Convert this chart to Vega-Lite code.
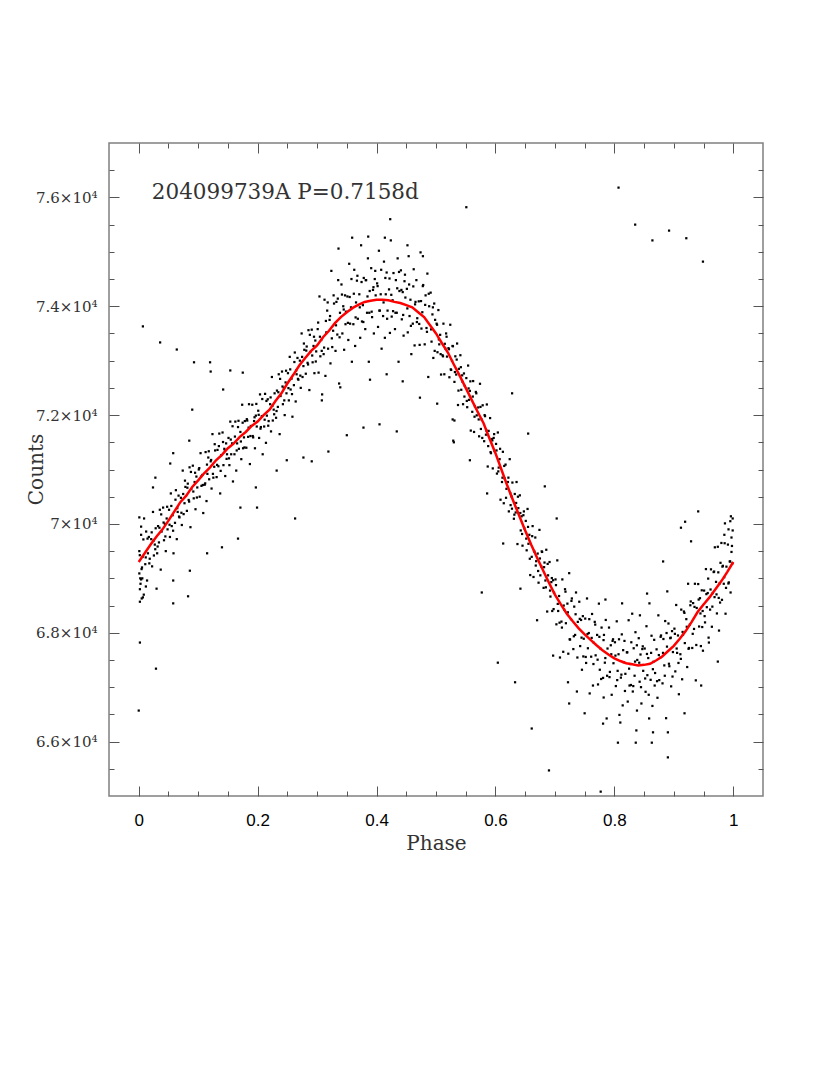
{
"$schema": "https://vega.github.io/schema/vega-lite/v6.json",
"width": 654, "height": 653,
"autosize": "none",
"padding": {"left": 109, "top": 143, "right": 67, "bottom": 279},
"background": "white",
"config": {"view": {"stroke": "#808080", "strokeWidth": 1.5}, "axis": {"grid": false, "domain": false, "tickColor": "#555555", "tickWidth": 1}},
"datasets": {
"pts": [
{"p":0.001,"c":69500},{"p":0.0025,"c":69000},{"p":0.004,"c":69800},{"p":0.0055,"c":69200},{"p":0.007,"c":69400},{"p":0.0085,"c":68700},
{"p":0.011,"c":69260},{"p":0.0125,"c":69860},{"p":0.014,"c":68960},{"p":0.0155,"c":69460},{"p":0.017,"c":69760},{"p":0.0185,"c":69360},
{"p":0.021,"c":69720},{"p":0.0225,"c":69220},{"p":0.024,"c":70220},{"p":0.0255,"c":69420},{"p":0.027,"c":69620},{"p":0.0285,"c":69920},
{"p":0.031,"c":69460},{"p":0.0325,"c":69960},{"p":0.034,"c":69660},{"p":0.0355,"c":70260},{"p":0.037,"c":69160},{"p":0.0385,"c":69860},
{"p":0.041,"c":70300},{"p":0.0425,"c":69700},{"p":0.044,"c":70000},{"p":0.0455,"c":69500},{"p":0.047,"c":70100},{"p":0.0485,"c":69900},
{"p":0.051,"c":70260},{"p":0.0525,"c":69760},{"p":0.054,"c":70560},{"p":0.0555,"c":69960},{"p":0.057,"c":70160},{"p":0.0585,"c":69460},
{"p":0.061,"c":70020},{"p":0.0625,"c":70620},{"p":0.064,"c":69720},{"p":0.0655,"c":70220},{"p":0.067,"c":70520},{"p":0.0685,"c":70120},
{"p":0.071,"c":70480},{"p":0.0725,"c":69980},{"p":0.074,"c":70980},{"p":0.0755,"c":70180},{"p":0.077,"c":70380},{"p":0.0785,"c":70680},
{"p":0.081,"c":70240},{"p":0.0825,"c":70740},{"p":0.084,"c":70440},{"p":0.0855,"c":71040},{"p":0.087,"c":69940},{"p":0.0885,"c":70640},
{"p":0.091,"c":71070},{"p":0.0925,"c":70470},{"p":0.094,"c":70770},{"p":0.0955,"c":70270},{"p":0.097,"c":70870},{"p":0.0985,"c":70670},
{"p":0.101,"c":71000},{"p":0.1025,"c":70500},{"p":0.104,"c":71300},{"p":0.1055,"c":70700},{"p":0.107,"c":70900},{"p":0.1085,"c":70200},
{"p":0.111,"c":70720},{"p":0.1125,"c":71320},{"p":0.114,"c":70420},{"p":0.1155,"c":70920},{"p":0.117,"c":71220},{"p":0.1185,"c":70820},
{"p":0.121,"c":71150},{"p":0.1225,"c":70650},{"p":0.124,"c":71650},{"p":0.1255,"c":70850},{"p":0.127,"c":71050},{"p":0.1285,"c":71350},
{"p":0.131,"c":70860},{"p":0.1325,"c":71360},{"p":0.134,"c":71060},{"p":0.1355,"c":71660},{"p":0.137,"c":70560},{"p":0.1385,"c":71260},
{"p":0.141,"c":71680},{"p":0.1425,"c":71080},{"p":0.144,"c":71380},{"p":0.1455,"c":70880},{"p":0.147,"c":71480},{"p":0.1485,"c":71280},
{"p":0.151,"c":71580},{"p":0.1525,"c":71080},{"p":0.154,"c":71880},{"p":0.1555,"c":71280},{"p":0.157,"c":71480},{"p":0.1585,"c":70780},
{"p":0.161,"c":71280},{"p":0.1625,"c":71880},{"p":0.164,"c":70980},{"p":0.1655,"c":71480},{"p":0.167,"c":71780},{"p":0.1685,"c":71380},
{"p":0.171,"c":71690},{"p":0.1725,"c":71190},{"p":0.174,"c":72190},{"p":0.1755,"c":71390},{"p":0.177,"c":71590},{"p":0.1785,"c":71890},
{"p":0.181,"c":71400},{"p":0.1825,"c":71900},{"p":0.184,"c":71600},{"p":0.1855,"c":72200},{"p":0.187,"c":71100},{"p":0.1885,"c":71800},
{"p":0.191,"c":72190},{"p":0.1925,"c":71590},{"p":0.194,"c":71890},{"p":0.1955,"c":71390},{"p":0.197,"c":71990},{"p":0.1985,"c":71790},
{"p":0.201,"c":72080},{"p":0.2025,"c":71580},{"p":0.204,"c":72380},{"p":0.2055,"c":71780},{"p":0.207,"c":71980},{"p":0.2085,"c":71280},
{"p":0.211,"c":71790},{"p":0.2125,"c":72390},{"p":0.214,"c":71490},{"p":0.2155,"c":71990},{"p":0.217,"c":72290},{"p":0.2185,"c":71890},
{"p":0.221,"c":72200},{"p":0.2225,"c":71700},{"p":0.224,"c":72700},{"p":0.2255,"c":71900},{"p":0.227,"c":72100},{"p":0.2285,"c":72400},
{"p":0.231,"c":71950},{"p":0.2325,"c":72450},{"p":0.234,"c":72150},{"p":0.2355,"c":72750},{"p":0.237,"c":71650},{"p":0.2385,"c":72350},
{"p":0.241,"c":72800},{"p":0.2425,"c":72200},{"p":0.244,"c":72500},{"p":0.2455,"c":72000},{"p":0.247,"c":72600},{"p":0.2485,"c":72400},
{"p":0.251,"c":72770},{"p":0.2525,"c":72270},{"p":0.254,"c":73070},{"p":0.2555,"c":72470},{"p":0.257,"c":72670},{"p":0.2585,"c":71970},
{"p":0.261,"c":72550},{"p":0.2625,"c":73150},{"p":0.264,"c":72250},{"p":0.2655,"c":72750},{"p":0.267,"c":73050},{"p":0.2685,"c":72650},
{"p":0.271,"c":73000},{"p":0.2725,"c":72500},{"p":0.274,"c":73500},{"p":0.2755,"c":72700},{"p":0.277,"c":72900},{"p":0.2785,"c":73200},
{"p":0.281,"c":72760},{"p":0.2825,"c":73260},{"p":0.284,"c":72960},{"p":0.2855,"c":73560},{"p":0.287,"c":72460},{"p":0.2885,"c":73160},
{"p":0.291,"c":73570},{"p":0.2925,"c":72970},{"p":0.294,"c":73270},{"p":0.2955,"c":72770},{"p":0.297,"c":73370},{"p":0.2985,"c":73170},
{"p":0.301,"c":73580},{"p":0.3025,"c":72780},{"p":0.304,"c":74180},{"p":0.3055,"c":73080},{"p":0.307,"c":73380},{"p":0.3085,"c":72380},
{"p":0.311,"c":73120},{"p":0.3125,"c":74120},{"p":0.314,"c":72720},{"p":0.3155,"c":73520},{"p":0.317,"c":73920},{"p":0.3185,"c":73220},
{"p":0.321,"c":73750},{"p":0.3225,"c":72950},{"p":0.324,"c":74650},{"p":0.3255,"c":73250},{"p":0.327,"c":73550},{"p":0.3285,"c":74050},
{"p":0.331,"c":73180},{"p":0.3325,"c":74080},{"p":0.334,"c":73480},{"p":0.3355,"c":74480},{"p":0.337,"c":72580},{"p":0.3385,"c":73880},
{"p":0.341,"c":74400},{"p":0.3425,"c":73500},{"p":0.344,"c":74000},{"p":0.3455,"c":73200},{"p":0.347,"c":74200},{"p":0.3485,"c":73900},
{"p":0.351,"c":74180},{"p":0.3525,"c":73380},{"p":0.354,"c":74780},{"p":0.3555,"c":73680},{"p":0.357,"c":73980},{"p":0.3585,"c":72980},
{"p":0.361,"c":73670},{"p":0.3625,"c":74670},{"p":0.364,"c":73270},{"p":0.3655,"c":74070},{"p":0.367,"c":74470},{"p":0.3685,"c":73770},
{"p":0.371,"c":74220},{"p":0.3725,"c":73420},{"p":0.374,"c":75120},{"p":0.3755,"c":73720},{"p":0.377,"c":74020},{"p":0.3785,"c":74520},
{"p":0.381,"c":73580},{"p":0.3825,"c":74480},{"p":0.384,"c":73880},{"p":0.3855,"c":74880},{"p":0.387,"c":72980},{"p":0.3885,"c":74280},
{"p":0.391,"c":74700},{"p":0.3925,"c":73800},{"p":0.394,"c":74300},{"p":0.3955,"c":73500},{"p":0.397,"c":74500},{"p":0.3985,"c":74200},
{"p":0.401,"c":74420},{"p":0.4025,"c":73620},{"p":0.404,"c":75020},{"p":0.4055,"c":73920},{"p":0.407,"c":74220},{"p":0.4085,"c":73220},
{"p":0.411,"c":73820},{"p":0.4125,"c":74820},{"p":0.414,"c":73420},{"p":0.4155,"c":74220},{"p":0.417,"c":74620},{"p":0.4185,"c":73920},
{"p":0.421,"c":74310},{"p":0.4225,"c":73510},{"p":0.424,"c":75210},{"p":0.4255,"c":73810},{"p":0.427,"c":74110},{"p":0.4285,"c":74610},
{"p":0.431,"c":73580},{"p":0.4325,"c":74480},{"p":0.434,"c":73880},{"p":0.4355,"c":74880},{"p":0.437,"c":72980},{"p":0.4385,"c":74280},
{"p":0.441,"c":74660},{"p":0.4425,"c":73760},{"p":0.444,"c":74260},{"p":0.4455,"c":73460},{"p":0.447,"c":74460},{"p":0.4485,"c":74160},
{"p":0.451,"c":74320},{"p":0.4525,"c":73520},{"p":0.454,"c":74920},{"p":0.4555,"c":73820},{"p":0.457,"c":74120},{"p":0.4585,"c":73120},
{"p":0.461,"c":73680},{"p":0.4625,"c":74680},{"p":0.464,"c":73280},{"p":0.4655,"c":74080},{"p":0.467,"c":74480},{"p":0.4685,"c":73780},
{"p":0.471,"c":74090},{"p":0.4725,"c":73290},{"p":0.474,"c":74990},{"p":0.4755,"c":73590},{"p":0.477,"c":73890},{"p":0.4785,"c":74390},
{"p":0.481,"c":73300},{"p":0.4825,"c":74200},{"p":0.484,"c":73600},{"p":0.4855,"c":74600},{"p":0.487,"c":72700},{"p":0.4885,"c":74000},
{"p":0.491,"c":74250},{"p":0.4925,"c":73350},{"p":0.494,"c":73850},{"p":0.4955,"c":73050},{"p":0.497,"c":74050},{"p":0.4985,"c":73750},
{"p":0.501,"c":73680},{"p":0.5025,"c":73155},{"p":0.504,"c":73930},{"p":0.5055,"c":73300},{"p":0.507,"c":73475},{"p":0.5085,"c":72745},
{"p":0.511,"c":73100},{"p":0.5125,"c":73680},{"p":0.514,"c":72750},{"p":0.5155,"c":73225},{"p":0.517,"c":73500},{"p":0.5185,"c":73075},
{"p":0.521,"c":73230},{"p":0.5225,"c":72695},{"p":0.524,"c":73660},{"p":0.5255,"c":72830},{"p":0.527,"c":72995},{"p":0.5285,"c":73265},
{"p":0.531,"c":72610},{"p":0.5325,"c":73080},{"p":0.534,"c":72745},{"p":0.5355,"c":73315},{"p":0.537,"c":72185},{"p":0.5385,"c":72850},
{"p":0.541,"c":73100},{"p":0.5425,"c":72465},{"p":0.544,"c":72730},{"p":0.5455,"c":72200},{"p":0.547,"c":72765},{"p":0.5485,"c":72535},
{"p":0.551,"c":72680},{"p":0.5525,"c":72145},{"p":0.554,"c":72910},{"p":0.5555,"c":72280},{"p":0.557,"c":72445},{"p":0.5585,"c":71715},
{"p":0.561,"c":72060},{"p":0.5625,"c":72625},{"p":0.564,"c":71690},{"p":0.5655,"c":72160},{"p":0.567,"c":72425},{"p":0.5685,"c":71995},
{"p":0.571,"c":72140},{"p":0.5725,"c":71610},{"p":0.574,"c":72575},{"p":0.5755,"c":71745},{"p":0.577,"c":71915},{"p":0.5785,"c":72180},
{"p":0.581,"c":71520},{"p":0.5825,"c":71980},{"p":0.584,"c":71640},{"p":0.5855,"c":72195},{"p":0.587,"c":71055},{"p":0.5885,"c":71710},
{"p":0.591,"c":71945},{"p":0.5925,"c":71300},{"p":0.594,"c":71560},{"p":0.5955,"c":71020},{"p":0.597,"c":71580},{"p":0.5985,"c":71340},
{"p":0.601,"c":71470},{"p":0.6025,"c":70925},{"p":0.604,"c":71680},{"p":0.6055,"c":71035},{"p":0.607,"c":71190},{"p":0.6085,"c":70445},
{"p":0.611,"c":70770},{"p":0.6125,"c":71325},{"p":0.614,"c":70380},{"p":0.6155,"c":70835},{"p":0.617,"c":71090},{"p":0.6185,"c":70645},
{"p":0.621,"c":70770},{"p":0.6225,"c":70230},{"p":0.624,"c":71190},{"p":0.6255,"c":70345},{"p":0.627,"c":70505},{"p":0.6285,"c":70760},
{"p":0.631,"c":70095},{"p":0.6325,"c":70550},{"p":0.634,"c":70210},{"p":0.6355,"c":70770},{"p":0.637,"c":69630},{"p":0.6385,"c":70290},
{"p":0.641,"c":70525},{"p":0.6425,"c":69880},{"p":0.644,"c":70140},{"p":0.6455,"c":69600},{"p":0.647,"c":70160},{"p":0.6485,"c":69920},
{"p":0.651,"c":70055},{"p":0.6525,"c":69515},{"p":0.654,"c":70275},{"p":0.6555,"c":69635},{"p":0.657,"c":69800},{"p":0.6585,"c":69060},
{"p":0.661,"c":69395},{"p":0.6625,"c":69960},{"p":0.664,"c":69025},{"p":0.6655,"c":69490},{"p":0.667,"c":69750},{"p":0.6685,"c":69315},
{"p":0.671,"c":69455},{"p":0.6725,"c":68920},{"p":0.674,"c":69890},{"p":0.6755,"c":69055},{"p":0.677,"c":69220},{"p":0.6785,"c":69485},
{"p":0.681,"c":68825},{"p":0.6825,"c":69290},{"p":0.684,"c":68960},{"p":0.6855,"c":69525},{"p":0.687,"c":68390},{"p":0.6885,"c":69055},
{"p":0.691,"c":69300},{"p":0.6925,"c":68665},{"p":0.694,"c":68930},{"p":0.6955,"c":68400},{"p":0.697,"c":68965},{"p":0.6985,"c":68735},
{"p":0.701,"c":68980},{"p":0.7025,"c":68155},{"p":0.704,"c":69330},{"p":0.7055,"c":68400},{"p":0.707,"c":68675},{"p":0.7085,"c":67545},
{"p":0.711,"c":68205},{"p":0.7125,"c":68980},{"p":0.714,"c":67650},{"p":0.7155,"c":68425},{"p":0.717,"c":68800},{"p":0.7185,"c":68175},
{"p":0.721,"c":68535},{"p":0.7225,"c":67615},{"p":0.724,"c":69095},{"p":0.7255,"c":67875},{"p":0.727,"c":68250},{"p":0.7285,"c":68630},
{"p":0.731,"c":67700},{"p":0.7325,"c":68480},{"p":0.734,"c":67960},{"p":0.7355,"c":68740},{"p":0.737,"c":66920},{"p":0.7385,"c":68200},
{"p":0.741,"c":68570},{"p":0.7425,"c":67755},{"p":0.744,"c":68235},{"p":0.7455,"c":67320},{"p":0.747,"c":68305},{"p":0.7485,"c":67890},
{"p":0.751,"c":68260},{"p":0.7525,"c":67445},{"p":0.754,"c":68630},{"p":0.7555,"c":67715},{"p":0.757,"c":67995},{"p":0.7585,"c":66885},
{"p":0.761,"c":67560},{"p":0.7625,"c":68345},{"p":0.764,"c":67030},{"p":0.7655,"c":67815},{"p":0.767,"c":68200},{"p":0.7685,"c":67585},
{"p":0.771,"c":67960},{"p":0.7725,"c":67050},{"p":0.774,"c":68535},{"p":0.7755,"c":67320},{"p":0.777,"c":67705},{"p":0.7785,"c":68095},
{"p":0.781,"c":67170},{"p":0.7825,"c":67960},{"p":0.784,"c":67450},{"p":0.7855,"c":68235},{"p":0.787,"c":66425},{"p":0.7885,"c":67710},
{"p":0.791,"c":68095},{"p":0.7925,"c":67280},{"p":0.794,"c":67770},{"p":0.7955,"c":66860},{"p":0.797,"c":67850},{"p":0.7985,"c":67440},
{"p":0.801,"c":67825},{"p":0.8025,"c":67020},{"p":0.804,"c":68210},{"p":0.8055,"c":67300},{"p":0.807,"c":67605},{"p":0.8085,"c":66490},
{"p":0.811,"c":67175},{"p":0.8125,"c":67970},{"p":0.814,"c":66665},{"p":0.8155,"c":67460},{"p":0.817,"c":67850},{"p":0.8185,"c":67245},
{"p":0.821,"c":67640},{"p":0.8225,"c":66735},{"p":0.824,"c":68230},{"p":0.8255,"c":67030},{"p":0.827,"c":67425},{"p":0.8285,"c":67825},
{"p":0.831,"c":66920},{"p":0.8325,"c":67715},{"p":0.834,"c":67210},{"p":0.8355,"c":68010},{"p":0.837,"c":66205},{"p":0.8385,"c":67500},
{"p":0.841,"c":67900},{"p":0.8425,"c":67100},{"p":0.844,"c":67600},{"p":0.8455,"c":66700},{"p":0.847,"c":67700},{"p":0.8485,"c":67300},
{"p":0.851,"c":67710},{"p":0.8525,"c":66915},{"p":0.854,"c":68120},{"p":0.8555,"c":67220},{"p":0.857,"c":67535},{"p":0.8585,"c":66425},
{"p":0.861,"c":67135},{"p":0.8625,"c":67945},{"p":0.864,"c":66655},{"p":0.8655,"c":67465},{"p":0.867,"c":67870},{"p":0.8685,"c":67260},
{"p":0.871,"c":67695},{"p":0.8725,"c":66805},{"p":0.874,"c":68320},{"p":0.8755,"c":67130},{"p":0.877,"c":67540},{"p":0.8785,"c":67950},
{"p":0.881,"c":67070},{"p":0.8825,"c":67885},{"p":0.884,"c":67400},{"p":0.8855,"c":68215},{"p":0.887,"c":66430},{"p":0.8885,"c":67745},
{"p":0.891,"c":68170},{"p":0.8925,"c":67385},{"p":0.894,"c":67900},{"p":0.8955,"c":67015},{"p":0.897,"c":68030},{"p":0.8985,"c":67645},
{"p":0.901,"c":68075},{"p":0.9025,"c":67290},{"p":0.904,"c":68510},{"p":0.9055,"c":67630},{"p":0.907,"c":67950},{"p":0.9085,"c":66870},
{"p":0.911,"c":67605},{"p":0.9125,"c":68425},{"p":0.914,"c":67145},{"p":0.9155,"c":67965},{"p":0.917,"c":68390},{"p":0.9185,"c":67810},
{"p":0.921,"c":68250},{"p":0.9225,"c":67370},{"p":0.924,"c":68900},{"p":0.9255,"c":67720},{"p":0.927,"c":68150},{"p":0.9285,"c":68575},
{"p":0.931,"c":67720},{"p":0.9325,"c":68545},{"p":0.934,"c":68070},{"p":0.9355,"c":68900},{"p":0.937,"c":67125},{"p":0.9385,"c":68455},
{"p":0.941,"c":68895},{"p":0.9425,"c":68115},{"p":0.944,"c":68635},{"p":0.9455,"c":67755},{"p":0.947,"c":68780},{"p":0.9485,"c":68400},
{"p":0.951,"c":68775},{"p":0.9525,"c":68190},{"p":0.954,"c":69170},{"p":0.9555,"c":68470},{"p":0.957,"c":68730},{"p":0.9585,"c":67910},
{"p":0.961,"c":68425},{"p":0.9625,"c":69165},{"p":0.964,"c":68110},{"p":0.9655,"c":68730},{"p":0.967,"c":69115},{"p":0.9685,"c":68655},
{"p":0.971,"c":68935},{"p":0.9725,"c":68355},{"p":0.974,"c":69580},{"p":0.9755,"c":68640},{"p":0.977,"c":68905},{"p":0.9785,"c":69285},
{"p":0.981,"c":68605},{"p":0.9825,"c":69230},{"p":0.984,"c":68900},{"p":0.9855,"c":69645},{"p":0.987,"c":68350},{"p":0.9885,"c":69215},
{"p":0.991,"c":69620},{"p":0.9925,"c":68925},{"p":0.994,"c":69310},{"p":0.9955,"c":68740},{"p":0.997,"c":69485},{"p":0.9985,"c":69275},
{"p":0.0018,"c":69425},{"p":0.0048,"c":69170},{"p":0.0078,"c":69715},{"p":0.0118,"c":69385},{"p":0.0148,"c":69730},{"p":0.0178,"c":69275},
{"p":0.0218,"c":69845},{"p":0.0248,"c":69690},{"p":0.0278,"c":69535},{"p":0.0318,"c":69585},{"p":0.0348,"c":69930},{"p":0.0378,"c":70175},
{"p":0.0418,"c":70025},{"p":0.0448,"c":69770},{"p":0.0478,"c":70315},{"p":0.0518,"c":69985},{"p":0.0548,"c":70330},{"p":0.0578,"c":69875},
{"p":0.0618,"c":70445},{"p":0.0648,"c":70290},{"p":0.0678,"c":70135},{"p":0.0718,"c":70205},{"p":0.0748,"c":70550},{"p":0.0778,"c":70795},
{"p":0.0818,"c":70665},{"p":0.0848,"c":70410},{"p":0.0878,"c":70955},{"p":0.0918,"c":70595},{"p":0.0948,"c":70940},{"p":0.0978,"c":70485},
{"p":0.1018,"c":71025},{"p":0.1048,"c":70870},{"p":0.1078,"c":70715},{"p":0.1118,"c":70745},{"p":0.1148,"c":71090},{"p":0.1178,"c":71335},
{"p":0.1218,"c":71175},{"p":0.1248,"c":70920},{"p":0.1278,"c":71465},{"p":0.1318,"c":71085},{"p":0.1348,"c":71430},{"p":0.1378,"c":70975},
{"p":0.1418,"c":71505},{"p":0.1448,"c":71350},{"p":0.1478,"c":71195},{"p":0.1518,"c":71205},{"p":0.1548,"c":71550},{"p":0.1578,"c":71795},
{"p":0.1618,"c":71605},{"p":0.1648,"c":71350},{"p":0.1678,"c":71895},{"p":0.1718,"c":71515},{"p":0.1748,"c":71860},{"p":0.1778,"c":71405},
{"p":0.1818,"c":71925},{"p":0.1848,"c":71770},{"p":0.1878,"c":71615},{"p":0.1918,"c":71615},{"p":0.1948,"c":71960},{"p":0.1978,"c":72205},
{"p":0.2018,"c":72005},{"p":0.2048,"c":71750},{"p":0.2078,"c":72295},{"p":0.2118,"c":71915},{"p":0.2148,"c":72260},{"p":0.2178,"c":71805},
{"p":0.2218,"c":72325},{"p":0.2248,"c":72170},{"p":0.2278,"c":72015},{"p":0.2318,"c":72075},{"p":0.2348,"c":72420},{"p":0.2378,"c":72665},
{"p":0.2418,"c":72525},{"p":0.2448,"c":72270},{"p":0.2478,"c":72815},{"p":0.2518,"c":72495},{"p":0.2548,"c":72840},{"p":0.2578,"c":72385},
{"p":0.2618,"c":72975},{"p":0.2648,"c":72820},{"p":0.2678,"c":72665},{"p":0.2718,"c":72725},{"p":0.2748,"c":73070},{"p":0.2778,"c":73315},
{"p":0.2818,"c":73185},{"p":0.2848,"c":72930},{"p":0.2878,"c":73475},{"p":0.2918,"c":73095},{"p":0.2948,"c":73440},{"p":0.2978,"c":72985},
{"p":0.3018,"c":73700},{"p":0.3048,"c":73440},{"p":0.3078,"c":73180},{"p":0.3118,"c":73240},{"p":0.3148,"c":73730},{"p":0.3178,"c":74070},
{"p":0.3218,"c":73820},{"p":0.3248,"c":73410},{"p":0.3278,"c":74200},{"p":0.3318,"c":73650},{"p":0.3348,"c":74140},{"p":0.3378,"c":73430},
{"p":0.3418,"c":74215},{"p":0.3448,"c":73940},{"p":0.3478,"c":73670},{"p":0.3518,"c":73695},{"p":0.3548,"c":74170},{"p":0.3578,"c":74500},
{"p":0.3618,"c":74230},{"p":0.3648,"c":73795},{"p":0.3678,"c":74560},{"p":0.3718,"c":73980},{"p":0.3748,"c":74445},{"p":0.3778,"c":73710},
{"p":0.3818,"c":74480},{"p":0.3848,"c":74180},{"p":0.3878,"c":73880},{"p":0.3918,"c":73900},{"p":0.3948,"c":74350},{"p":0.3978,"c":74650},
{"p":0.4018,"c":74370},{"p":0.4048,"c":73920},{"p":0.4078,"c":74670},{"p":0.4118,"c":74070},{"p":0.4148,"c":74520},{"p":0.4178,"c":73770},
{"p":0.4218,"c":74510},{"p":0.4248,"c":74210},{"p":0.4278,"c":73910},{"p":0.4318,"c":73880},{"p":0.4348,"c":74330},{"p":0.4378,"c":74630},
{"p":0.4418,"c":74300},{"p":0.4448,"c":73840},{"p":0.4478,"c":74580},{"p":0.4518,"c":73960},{"p":0.4548,"c":74400},{"p":0.4578,"c":73640},
{"p":0.4618,"c":74365},{"p":0.4648,"c":74035},{"p":0.4678,"c":73710},{"p":0.4718,"c":73675},{"p":0.4748,"c":74095},{"p":0.4778,"c":74370},
{"p":0.4818,"c":74025},{"p":0.4848,"c":73530},{"p":0.4878,"c":74230},{"p":0.4918,"c":73575},{"p":0.4948,"c":73980},{"p":0.4978,"c":73180},
{"p":0.5018,"c":73660},{"p":0.5048,"c":73390},{"p":0.5078,"c":73120},{"p":0.5118,"c":73080},{"p":0.5148,"c":73310},{"p":0.5178,"c":73440},
{"p":0.5218,"c":73210},{"p":0.5248,"c":72840},{"p":0.5278,"c":73270},{"p":0.5318,"c":72790},{"p":0.5348,"c":73020},{"p":0.5378,"c":72450},
{"p":0.5418,"c":72880},{"p":0.5448,"c":72610},{"p":0.5478,"c":72340},{"p":0.5518,"c":72260},{"p":0.5548,"c":72490},{"p":0.5578,"c":72620},
{"p":0.5618,"c":72340},{"p":0.5648,"c":71970},{"p":0.5678,"c":72400},{"p":0.5718,"c":71920},{"p":0.5748,"c":72150},{"p":0.5778,"c":71580},
{"p":0.5818,"c":72000},{"p":0.5848,"c":71715},{"p":0.5878,"c":71430},{"p":0.5918,"c":71320},{"p":0.5948,"c":71535},{"p":0.5978,"c":71650},
{"p":0.6018,"c":71350},{"p":0.6048,"c":70965},{"p":0.6078,"c":71380},{"p":0.6118,"c":70850},{"p":0.6148,"c":71065},{"p":0.6178,"c":70480},
{"p":0.6218,"c":70850},{"p":0.6248,"c":70565},{"p":0.6278,"c":70280},{"p":0.6318,"c":70170},{"p":0.6348,"c":70385},{"p":0.6378,"c":70500},
{"p":0.6418,"c":70200},{"p":0.6448,"c":69815},{"p":0.6478,"c":70230},{"p":0.6518,"c":69730},{"p":0.6548,"c":69945},{"p":0.6578,"c":69360},
{"p":0.6618,"c":69775},{"p":0.6648,"c":69505},{"p":0.6678,"c":69235},{"p":0.6718,"c":69135},{"p":0.6748,"c":69365},{"p":0.6778,"c":69495},
{"p":0.6818,"c":69205},{"p":0.6848,"c":68835},{"p":0.6878,"c":69265},{"p":0.6918,"c":68775},{"p":0.6948,"c":69005},{"p":0.6978,"c":68435},
{"p":0.7018,"c":68875},{"p":0.7048,"c":68530},{"p":0.7078,"c":68185},{"p":0.7118,"c":68095},{"p":0.7148,"c":68500},{"p":0.7178,"c":68755},
{"p":0.7218,"c":68375},{"p":0.7248,"c":67880},{"p":0.7278,"c":68585},{"p":0.7318,"c":67935},{"p":0.7348,"c":68340},{"p":0.7378,"c":67545},
{"p":0.7418,"c":68255},{"p":0.7448,"c":67910},{"p":0.7478,"c":67565},{"p":0.7518,"c":67555},{"p":0.7548,"c":67975},{"p":0.7578,"c":68250},
{"p":0.7618,"c":67905},{"p":0.7648,"c":67425},{"p":0.7678,"c":68150},{"p":0.7718,"c":67505},{"p":0.7748,"c":67925},{"p":0.7778,"c":67150},
{"p":0.7818,"c":67865},{"p":0.7848,"c":67535},{"p":0.7878,"c":67210},{"p":0.7918,"c":67185},{"p":0.7948,"c":67605},{"p":0.7978,"c":67880},
{"p":0.8018,"c":67580},{"p":0.8048,"c":67130},{"p":0.8078,"c":67880},{"p":0.8118,"c":67230},{"p":0.8148,"c":67680},{"p":0.8178,"c":66930},
{"p":0.8218,"c":67640},{"p":0.8248,"c":67340},{"p":0.8278,"c":67040},{"p":0.8318,"c":67020},{"p":0.8348,"c":67470},{"p":0.8378,"c":67770},
{"p":0.8418,"c":67450},{"p":0.8448,"c":67000},{"p":0.8478,"c":67750},{"p":0.8518,"c":67160},{"p":0.8548,"c":67610},{"p":0.8578,"c":66860},
{"p":0.8618,"c":67630},{"p":0.8648,"c":67330},{"p":0.8678,"c":67030},{"p":0.8718,"c":67110},{"p":0.8748,"c":67590},{"p":0.8778,"c":67925},
{"p":0.8818,"c":67630},{"p":0.8848,"c":67210},{"p":0.8878,"c":67995},{"p":0.8918,"c":67430},{"p":0.8948,"c":67910},{"p":0.8978,"c":67195},
{"p":0.9018,"c":67980},{"p":0.9048,"c":67710},{"p":0.9078,"c":67445},{"p":0.9118,"c":67520},{"p":0.9148,"c":68015},{"p":0.9178,"c":68365},
{"p":0.9218,"c":68110},{"p":0.9248,"c":67705},{"p":0.9278,"c":68505},{"p":0.9318,"c":67980},{"p":0.9348,"c":68475},{"p":0.9378,"c":67775},
{"p":0.9418,"c":68610},{"p":0.9448,"c":68355},{"p":0.9478,"c":68105},{"p":0.9518,"c":68305},{"p":0.9548,"c":68710},{"p":0.9578,"c":68995},
{"p":0.9618,"c":68795},{"p":0.9648,"c":68480},{"p":0.9678,"c":69125},{"p":0.9718,"c":68705},{"p":0.9748,"c":69110},{"p":0.9778,"c":68555},
{"p":0.9818,"c":69215},{"p":0.9848,"c":69020},{"p":0.9878,"c":68825},{"p":0.9918,"c":68905},{"p":0.9948,"c":69310},{"p":0.9978,"c":69595},
{"p":0.992,"c":69900},{"p":0.995,"c":70050},{"p":0.997,"c":69750},{"p":0.999,"c":70100},{"p":0.985,"c":69800},{"p":0.98,"c":69650},
{"p":0.003,"c":68900},{"p":0.006,"c":69000},{"p":0.012,"c":68850},{"p":0.004,"c":69950},{"p":0.009,"c":70100},
{"p":0.007,"c":73630},{"p":0.036,"c":73335},{"p":0.064,"c":73205},{"p":0.093,"c":72970},{"p":0.12,"c":72970},{"p":0.121,"c":72800},
{"p":0.154,"c":72820},{"p":0.142,"c":72470},{"p":0.175,"c":72780},{"p":0.09,"c":72100},{"p":0.058,"c":71300},{"p":0.085,"c":71530},
{"p":0.028,"c":70850},{"p":0.053,"c":71110},
{"p":0.263,"c":70100},{"p":0.167,"c":69730},{"p":0.14,"c":69570},{"p":0.115,"c":69460},{"p":0.086,"c":69140},{"p":0.083,"c":68670},
{"p":0.058,"c":68960},{"p":0.03,"c":68810},{"p":0.007,"c":68650},{"p":0.171,"c":70300},{"p":0.199,"c":70300},{"p":0.232,"c":70980},
{"p":0.277,"c":71220},{"p":0.291,"c":71150},{"p":0.319,"c":71330},{"p":0.35,"c":71630},{"p":0.378,"c":71770},{"p":0.405,"c":71830},
{"p":0.434,"c":71700},{"p":0.197,"c":70670},{"p":0.249,"c":71170},{"p":0.308,"c":72270},{"p":0.339,"c":72510},{"p":0.389,"c":72650},
{"p":0.417,"c":72750},{"p":0.444,"c":72620},{"p":0.473,"c":72320},{"p":0.502,"c":72210},{"p":0.529,"c":71530},{"p":0.531,"c":71900},
{"p":0.359,"c":75260},{"p":0.386,"c":75280},{"p":0.414,"c":75260},{"p":0.452,"c":75120},{"p":0.336,"c":75060},{"p":0.478,"c":74920},
{"p":0.423,"c":75600},{"p":0.551,"c":75820},
{"p":0.628,"c":72400},{"p":0.655,"c":71660},{"p":0.577,"c":68740},{"p":0.604,"c":67450},{"p":0.633,"c":67090},{"p":0.661,"c":66240},
{"p":0.69,"c":65470},{"p":0.683,"c":70690},{"p":0.703,"c":70100},{"p":0.528,"c":71920},{"p":0.53,"c":71500},{"p":0.557,"c":71170},
{"p":0.586,"c":70560},{"p":0.613,"c":69640},{"p":0.642,"c":68810},{"p":0.67,"c":68230},{"p":0.697,"c":67580},{"p":0.722,"c":67090},
{"p":0.724,"c":66700},{"p":0.75,"c":66520},{"p":0.781,"c":66330},{"p":0.806,"c":65980},{"p":0.836,"c":65980},{"p":0.863,"c":65980},
{"p":0.89,"c":66170},{"p":0.89,"c":65710},{"p":0.865,"c":66170},{"p":0.81,"c":66350},{"p":0.918,"c":66520},{"p":0.946,"c":67030},
{"p":0.782,"c":66810},{"p":0.838,"c":66570},{"p":0.855,"c":68720},{"p":0.859,"c":68540},{"p":0.813,"c":68540},{"p":0.785,"c":68610},
{"p":0.882,"c":69310},{"p":0.889,"c":68760},{"p":0.912,"c":69930},{"p":0.919,"c":70040},{"p":0.941,"c":70230},{"p":0.929,"c":69680},
{"p":0.969,"c":69570},{"p":0.986,"c":70010},{"p":0.996,"c":70140},{"p":0.999,"c":69880},{"p":0.974,"c":67470},{"p":0.976,"c":68040},
{"p":0.959,"c":67820},{"p":0.949,"c":67670},{"p":0.83,"c":68350},{"p":0.843,"c":68320},{"p":0.777,"c":65080},
{"p":0.807,"c":76180},{"p":0.835,"c":75500},{"p":0.864,"c":75210},{"p":0.892,"c":75390},{"p":0.921,"c":75250},{"p":0.949,"c":74820},
{"p":0.001,"c":70120},{"p":0.005,"c":68630},{"p":0.002,"c":68800},{"p":0.024,"c":70670},{"p":0.001,"c":69090},{"p":0.004,"c":68980},
{"p":0.002,"c":68570},{"p":0.058,"c":68540},{"p":0.002,"c":67820},{"p":0.029,"c":67340},{"p":0.0,"c":66570}
],
"fit": [
{"p":0.0,"c":69300},{"p":0.01,"c":69460},{"p":0.02,"c":69620},{"p":0.03,"c":69770},{"p":0.04,"c":69900},{"p":0.05,"c":70060},
{"p":0.06,"c":70230},{"p":0.07,"c":70400},{"p":0.08,"c":70520},{"p":0.09,"c":70680},{"p":0.1,"c":70800},{"p":0.11,"c":70930},
{"p":0.12,"c":71040},{"p":0.13,"c":71170},{"p":0.14,"c":71270},{"p":0.15,"c":71390},{"p":0.16,"c":71480},{"p":0.17,"c":71600},
{"p":0.18,"c":71690},{"p":0.19,"c":71800},{"p":0.2,"c":71880},{"p":0.21,"c":72000},{"p":0.22,"c":72100},{"p":0.23,"c":72260},
{"p":0.24,"c":72400},{"p":0.25,"c":72580},{"p":0.26,"c":72740},{"p":0.27,"c":72910},{"p":0.28,"c":73050},{"p":0.29,"c":73180},
{"p":0.3,"c":73280},{"p":0.31,"c":73430},{"p":0.32,"c":73550},{"p":0.33,"c":73690},{"p":0.34,"c":73800},{"p":0.35,"c":73890},
{"p":0.36,"c":73970},{"p":0.37,"c":74030},{"p":0.38,"c":74080},{"p":0.39,"c":74100},{"p":0.4,"c":74120},{"p":0.41,"c":74120},
{"p":0.42,"c":74110},{"p":0.43,"c":74080},{"p":0.44,"c":74060},{"p":0.45,"c":74020},{"p":0.46,"c":73980},{"p":0.47,"c":73890},
{"p":0.48,"c":73800},{"p":0.49,"c":73650},{"p":0.5,"c":73500},{"p":0.51,"c":73320},{"p":0.52,"c":73150},{"p":0.53,"c":72930},
{"p":0.54,"c":72720},{"p":0.55,"c":72500},{"p":0.56,"c":72280},{"p":0.57,"c":72060},{"p":0.58,"c":71850},{"p":0.59,"c":71570},
{"p":0.6,"c":71300},{"p":0.61,"c":71000},{"p":0.62,"c":70700},{"p":0.63,"c":70420},{"p":0.64,"c":70150},{"p":0.65,"c":69880},
{"p":0.66,"c":69620},{"p":0.67,"c":69380},{"p":0.68,"c":69150},{"p":0.69,"c":68920},{"p":0.7,"c":68700},{"p":0.71,"c":68520},
{"p":0.72,"c":68350},{"p":0.73,"c":68210},{"p":0.74,"c":68080},{"p":0.75,"c":67970},{"p":0.76,"c":67870},{"p":0.77,"c":67770},
{"p":0.78,"c":67680},{"p":0.79,"c":67600},{"p":0.8,"c":67530},{"p":0.81,"c":67480},{"p":0.82,"c":67440},{"p":0.83,"c":67420},
{"p":0.84,"c":67400},{"p":0.85,"c":67410},{"p":0.86,"c":67430},{"p":0.87,"c":67490},{"p":0.88,"c":67560},{"p":0.89,"c":67660},
{"p":0.9,"c":67760},{"p":0.91,"c":67890},{"p":0.92,"c":68030},{"p":0.93,"c":68200},{"p":0.94,"c":68380},{"p":0.95,"c":68520},
{"p":0.96,"c":68650},{"p":0.97,"c":68800},{"p":0.98,"c":68950},{"p":0.99,"c":69120},{"p":1.0,"c":69300}
],
"label": [{"text": "204099739A P=0.7158d"}],
"blank": [{"text": ""}]
},
"resolve": {"axis": {"x": "independent", "y": "independent"}},
"layer": [
{
"data": {"name": "pts"},
"mark": {"type": "square", "size": 5, "color": "#000000", "opacity": 1, "clip": true},
"encoding": {
"x": {"field": "p", "type": "quantitative", "scale": {"domain": [-0.05, 1.05], "nice": false, "zero": false},
"axis": {"orient": "bottom", "values": [0, 0.2, 0.4, 0.6, 0.8, 1], "ticks": false, "tickSize": 0, "labelPadding": 16, "labelExpr": "format(datum.value, '~g')", "labelFont": "Liberation Sans", "labelFontSize": 17, "labelColor": "#000000", "title": "Phase", "titleFont": "DejaVu Serif", "titleFontSize": 20, "titleFontWeight": "normal", "titleColor": "#333333", "titleX": 327, "titleY": 47, "titleAlign": "center", "titleBaseline": "middle"}},
"y": {"field": "c", "type": "quantitative", "scale": {"domain": [65000, 77000], "nice": false, "zero": false},
"axis": {"orient": "left", "values": [66000, 68000, 70000, 72000, 74000, 76000], "ticks": false, "tickSize": 0, "labelPadding": 12, "labelExpr": "format(datum.value / 10000, '.2~g') + '×10⁴'", "labelFont": "DejaVu Serif", "labelFontSize": 15, "labelColor": "#333333", "title": "Counts", "titleFont": "DejaVu Serif", "titleFontSize": 20, "titleFontWeight": "normal", "titleColor": "#333333", "titleX": -73, "titleY": 326, "titleAlign": "center", "titleBaseline": "middle", "titleAngle": 270}}
}
},
{
"data": {"name": "fit"},
"mark": {"type": "line", "color": "#ff0000", "strokeWidth": 2.5, "clip": true},
"encoding": {
"x": {"field": "p", "type": "quantitative", "axis": {"orient": "top", "offset": -653, "values": [0, 0.2, 0.4, 0.6, 0.8, 1], "tickSize": 10, "labels": false, "title": null}},
"y": {"field": "c", "type": "quantitative", "axis": {"orient": "right", "offset": -654, "values": [66000, 68000, 70000, 72000, 74000, 76000], "tickSize": 10, "labels": false, "title": null}}
}
},
{
"data": {"name": "label"},
"mark": {"type": "text", "align": "left", "baseline": "alphabetic", "font": "DejaVu Serif", "fontSize": 21.5, "color": "#333333"},
"encoding": {
"text": {"field": "text"},
"x": {"datum": 0.022, "type": "quantitative", "axis": {"orient": "bottom", "offset": -653, "values": [0, 0.2, 0.4, 0.6, 0.8, 1], "tickSize": 10, "labels": false, "title": null}},
"y": {"datum": 75980, "type": "quantitative", "axis": {"orient": "left", "offset": -654, "values": [66000, 68000, 70000, 72000, 74000, 76000], "tickSize": 10, "labels": false, "title": null}}
}
},
{
"data": {"name": "blank"},
"mark": {"type": "text"},
"encoding": {
"text": {"field": "text"},
"x": {"datum": 0.5, "type": "quantitative", "axis": {"orient": "top", "offset": -653, "values": [0.05, 0.1, 0.15, 0.25, 0.3, 0.35, 0.45, 0.5, 0.55, 0.65, 0.7, 0.75, 0.85, 0.9, 0.95], "tickSize": 5, "labels": false, "title": null}},
"y": {"datum": 70000, "type": "quantitative", "axis": {"orient": "right", "offset": -654, "values": [65500, 66500, 67000, 67500, 68500, 69000, 69500, 70500, 71000, 71500, 72500, 73000, 73500, 74500, 75000, 75500, 76500], "tickSize": 5, "labels": false, "title": null}}
}
},
{
"data": {"name": "blank"},
"mark": {"type": "text"},
"encoding": {
"text": {"field": "text"},
"x": {"datum": 0.5, "type": "quantitative", "axis": {"orient": "bottom", "offset": -653, "values": [0.05, 0.1, 0.15, 0.25, 0.3, 0.35, 0.45, 0.5, 0.55, 0.65, 0.7, 0.75, 0.85, 0.9, 0.95], "tickSize": 5, "labels": false, "title": null}},
"y": {"datum": 70000, "type": "quantitative", "axis": {"orient": "left", "offset": -654, "values": [65500, 66500, 67000, 67500, 68500, 69000, 69500, 70500, 71000, 71500, 72500, 73000, 73500, 74500, 75000, 75500, 76500], "tickSize": 5, "labels": false, "title": null}}
}
}
]
}
